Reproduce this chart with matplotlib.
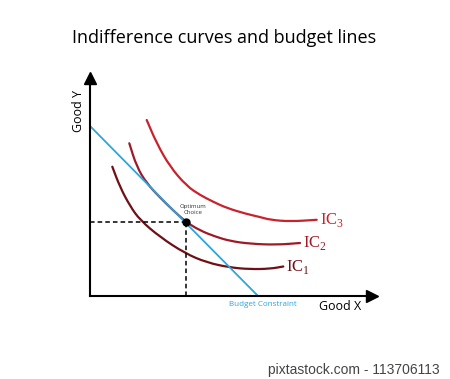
import numpy as np
import matplotlib.pyplot as plt
from matplotlib.path import Path
from matplotlib.patches import PathPatch

# indifference curves (x = good X, y = good Y)
ic3_x = [5.67, 6.67, 8.0, 9.67, 11.0, 12.3, 13.67, 15.67, 17.0, 18.0, 20.0, 22.67]
ic3_y = [17.6, 15.27, 12.93, 11.0, 10.1, 9.43, 8.8, 8.2, 7.9, 7.62, 7.45, 7.62]
ic2_x = [3.93, 4.67, 5.67, 7.0, 8.33, 9.6, 11.0, 12.5, 14.0, 16.0, 18.67, 21.0]
ic2_y = [15.27, 12.93, 11.27, 9.85, 8.55, 7.4, 6.55, 5.95, 5.5, 5.22, 5.12, 5.3]
ic1_x = [2.23, 3.0, 4.0, 5.0, 7.0, 9.5, 11.67, 14.0, 16.0, 18.0, 19.33]
ic1_y = [12.93, 10.9, 9.0, 7.6, 5.9, 4.27, 3.35, 2.85, 2.68, 2.72, 2.95]

budget_x = [0, 16.8]
budget_y = [17.0, 0]
optimum = (9.6, 7.4)

labels = ['IC$_1$', 'IC$_2$', 'IC$_3$']
colors = ['#6e1016', '#9e1b26', '#c9222c']

plt.rcParams['font.family'] = ['Open Sans', 'DejaVu Sans']
plt.rcParams['mathtext.fontset'] = 'custom'
plt.rcParams['mathtext.rm'] = 'Liberation Serif'


def smooth_path(xs, ys):
    # quadratic bezier through midpoints, the read points act as control points
    pts = list(zip(xs, ys))
    mids = [((a[0] + b[0]) / 2, (a[1] + b[1]) / 2) for a, b in zip(pts[:-1], pts[1:])]
    verts = [pts[0], mids[0]]
    codes = [Path.MOVETO, Path.LINETO]
    for p, m in zip(pts[1:-1], mids[1:]):
        verts += [p, m]
        codes += [Path.CURVE3, Path.CURVE3]
    verts.append(pts[-1])
    codes.append(Path.LINETO)
    return Path(verts, codes)


fig = plt.figure(figsize=(4.5, 3.79), dpi=100)
ax = fig.add_axes([90/450, 83/379, 282/450, 218/379])
ax.set_xlim(0, 28.2)
ax.set_ylim(0, 21.8)
for s in ['top', 'right']:
    ax.spines[s].set_visible(False)
for s in ['left', 'bottom']:
    ax.spines[s].set_linewidth(1.5)
ax.set_xticks([])
ax.set_yticks([])
ax.plot(1, 0, '>k', ms=8, transform=ax.transAxes, clip_on=False)
ax.plot(0, 1, '^k', ms=8, transform=ax.transAxes, clip_on=False)

# curves
curves = [(ic1_x, ic1_y), (ic2_x, ic2_y), (ic3_x, ic3_y)]
for (cx, cy), c, lab in zip(curves, colors, labels):
    ax.add_patch(PathPatch(smooth_path(cx, cy), facecolor='none', edgecolor=c, lw=1.6,
                           capstyle='round', joinstyle='round'))
    ax.text(cx[-1] + 0.3, cy[-1], lab, color=c, fontsize=12, family='Liberation Serif',
            va='center', ha='left')

ax.plot(budget_x, budget_y, color='#2aa6e0', lw=1.3)

# optimum and dashed guides
ox, oy = optimum
ax.plot([0, ox], [oy, oy], 'k--', lw=1.1, dashes=(3, 2))
ax.plot([ox, ox], [0, oy], 'k--', lw=1.1, dashes=(3, 2))
ax.plot(ox, oy, 'o', color='black', ms=5, zorder=5)
ax.text(ox + 0.75, oy + 0.75, 'Optimum\nChoice', fontsize=4.3, ha='center', va='bottom',
        color='#333333', linespacing=1.1)

ax.text(budget_x[1] + 0.5, -0.9, 'Budget Constraint', color='#2aa6e0', fontsize=5.8,
        ha='center', va='center')

fig.text(340/450, 1 - 306/379, 'Good X', fontsize=9, ha='center', va='center')
fig.text(78/450, 1 - 111/379, 'Good Y', fontsize=9, ha='center', va='center', rotation=90)
fig.text(224/450, 1 - 38/379, 'Indifference curves and budget lines', fontsize=13,
         ha='center', va='center')
fig.text(440/450, 1 - 370/379, 'pixtastock.com - 113706113', fontsize=10,
         family='Liberation Sans', color='#444444', ha='right', va='center')

fig.savefig('out.png', dpi=100, facecolor='white')
